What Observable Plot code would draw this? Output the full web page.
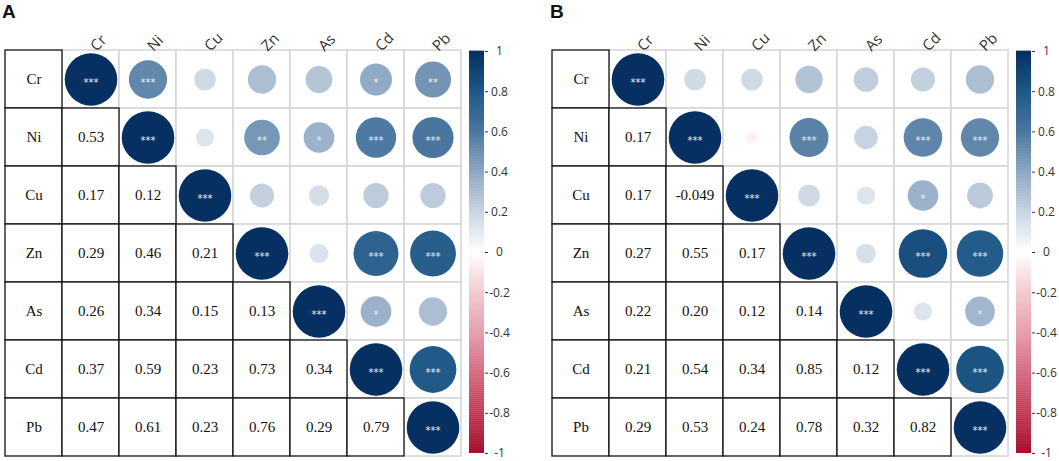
<!DOCTYPE html>
<html><head><meta charset="utf-8">
<script src="https://cdn.jsdelivr.net/npm/d3@7"></script>
<script src="https://cdn.jsdelivr.net/npm/@observablehq/plot@0.6"></script>
<style>
body{margin:0;background:#fff}
#root{position:relative;width:1059px;height:461px;overflow:hidden;background:#fff}
.abs{position:absolute;top:0}
.tag{position:absolute;top:1px;font:bold 19px "Liberation Sans",Arial,sans-serif;color:#111}
</style></head>
<body><div id="root"></div>
<script>
// ---- data ----
const elements = ["Cr","Ni","Cu","Zn","As","Cd","Pb"];
// lower triangle correlations, row i (Ni..Pb), columns Cr..(i-1)
const corrA = [
  [0.53],
  [0.17, 0.12],
  [0.29, 0.46, 0.21],
  [0.26, 0.34, 0.15, 0.13],
  [0.37, 0.59, 0.23, 0.73, 0.34],
  [0.47, 0.61, 0.23, 0.76, 0.29, 0.79]
];
const labelsA = [
  ["0.53"],
  ["0.17","0.12"],
  ["0.29","0.46","0.21"],
  ["0.26","0.34","0.15","0.13"],
  ["0.37","0.59","0.23","0.73","0.34"],
  ["0.47","0.61","0.23","0.76","0.29","0.79"]
];
const corrB = [
  [0.17],
  [0.17, -0.049],
  [0.27, 0.55, 0.17],
  [0.22, 0.20, 0.12, 0.14],
  [0.21, 0.54, 0.34, 0.85, 0.12],
  [0.29, 0.53, 0.24, 0.78, 0.32, 0.82]
];
const labelsB = [
  ["0.17"],
  ["0.17","-0.049"],
  ["0.27","0.55","0.17"],
  ["0.22","0.20","0.12","0.14"],
  ["0.21","0.54","0.34","0.85","0.12"],
  ["0.29","0.53","0.24","0.78","0.32","0.82"]
];
// significance stars, upper triangle incl. diagonal: row i, columns i..6
const starsA = [
  ["***","***","","","","*","**"],
  ["***","","**","*","***","***"],
  ["***","","","",""],
  ["***","","***","***"],
  ["***","*",""],
  ["***","***"],
  ["***"]
];
const starsB = [
  ["***","","","","","",""],
  ["***","","***","","***","***"],
  ["***","","","*",""],
  ["***","","***","***"],
  ["***","","*"],
  ["***","***"],
  ["***"]
];
const colorTicks = [-1,-0.8,-0.6,-0.4,-0.2,0,0.2,0.4,0.6,0.8,1];
const colorStops = ["#a50f2d","#c03a55","#d3687f","#e5a0ad","#f3cad2","#ffffff","#c6d3e0","#89a4c0","#4b77a0","#1f5887","#053061"];

// ---- helpers ----
const colorOpts = {type:"linear", domain: colorTicks, range: colorStops};
const LBL = " ";
const serif = "'Liberation Serif','Times New Roman',serif";
const sans = "'Open Sans','DejaVu Sans',sans-serif";

function build(corr, labels, stars) {
  const lower = [], upper = [];
  elements.forEach((row, i) => {
    lower.push({row, col: LBL, text: row});
    for (let j = 0; j < i; j++) lower.push({row, col: elements[j], text: labels[i-1][j]});
    for (let j = i; j < elements.length; j++) {
      const v = i === j ? 1 : corr[j-1][i];
      upper.push({row, col: elements[j], v, stars: stars[i][j-i]});
    }
  });
  return {lower, upper};
}

function panel(corr, labels, stars, left, gridW, cbLeft, tag) {
  const root = document.getElementById("root");
  const {lower, upper} = build(corr, labels, stars);
  const W = gridW + 10;
  const main = Plot.plot({
    width: W, height: 461,
    marginLeft: 2, marginRight: W - 2 - gridW, marginTop: 50, marginBottom: 5,
    x: {domain: [LBL, ...elements], padding: 0, axis: null},
    y: {domain: elements, padding: 0, axis: null},
    r: {type: "sqrt", domain: [0, 1], range: [0, 26.3]},
    color: colorOpts,
    style: {overflow: "visible", background: "transparent"},
    marks: [
      Plot.cell(upper, {x: "col", y: "row", fill: "white", stroke: "#d6d6d6", strokeWidth: 1.6}),
      Plot.cell(lower, {x: "col", y: "row", fill: "white", stroke: "#111", strokeWidth: 1.3}),
      Plot.dot(upper, {x: "col", y: "row", r: d => Math.abs(d.v), fill: "v", stroke: "none"}),
      Plot.text(upper.filter(d => d.stars), {x: "col", y: "row", text: "stars", fill: "#e6edf5", fontSize: 10, fontFamily: "'DejaVu Sans',sans-serif", dy: 3}),
      Plot.text(lower, {x: "col", y: "row", text: "text", fill: "#111", fontSize: 15, fontFamily: serif}),
      Plot.text(elements, {x: d => d, frameAnchor: "top", text: d => d, rotate: -45, textAnchor: "start", dx: -2, dy: -6, fontSize: 15, fontFamily: sans, fill: "#333"})
    ]
  });
  main.classList.add("abs");
  main.style.left = left + "px";
  root.appendChild(main);

  const steps = d3.range(0, 200).map(i => ({y1: -1 + i / 100, y2: -1 + (i + 1) / 100 + 0.002, v: -1 + (i + 0.5) / 100}));
  const cb = Plot.plot({
    width: 62, height: 461,
    marginLeft: 7, marginRight: 40, marginTop: 51, marginBottom: 8,
    x: {domain: [0, 1], axis: null},
    y: {domain: [-1, 1]},
    color: colorOpts,
    style: {overflow: "visible", background: "transparent"},
    marks: [
      Plot.rect(steps, {x1: 0, x2: 1, y1: "y1", y2: "y2", fill: "v"}),
      Plot.axisY({anchor: "right", ticks: colorTicks, tickSize: 3, tickPadding: 12, textAnchor: "middle",
        tickFormat: d => String(+d.toFixed(1)), fontSize: 12, fontFamily: sans, fill: "#333", stroke: "#333"})
    ]
  });
  cb.classList.add("abs");
  cb.style.left = (cbLeft - 7) + "px";
  root.appendChild(cb);

  const t = document.createElement("div");
  t.className = "tag";
  t.style.left = (left + 2) + "px";
  t.textContent = tag;
  root.appendChild(t);
}

panel(corrA, labelsA, starsA, 0, 462, 469, "A");
panel(corrB, labelsB, starsB, 548, 460, 1016, "B");
</script></body></html>
